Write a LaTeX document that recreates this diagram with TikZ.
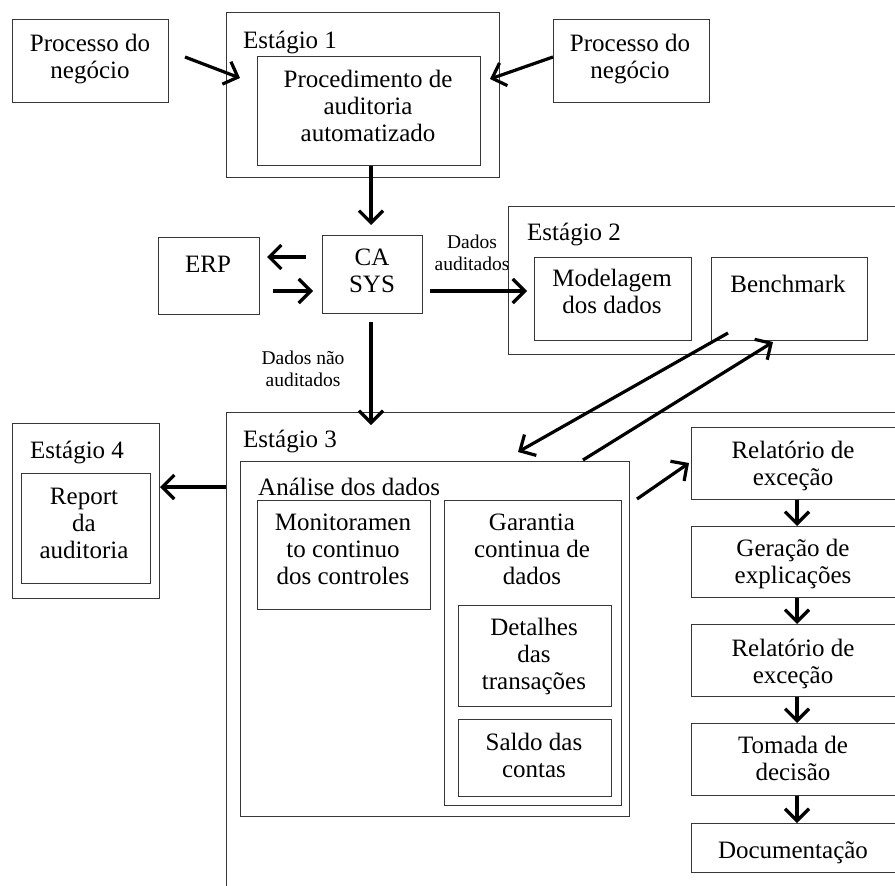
\documentclass[tikz,border=0pt]{standalone}
\usepackage{fontspec}
\setmainfont{Liberation Serif}
\usetikzlibrary{arrows.meta}
\definecolor{boxc}{RGB}{55,55,55}
\newcommand\stA{\rule{0pt}{23pt}}
\newcommand\stB{\rule{0pt}{18pt}}
\begin{document}
\begin{tikzpicture}[x=1pt,y=-1pt,
  box/.style={draw=boxc,line width=1.4pt,inner sep=0pt,anchor=north west},
  txt/.style={inner sep=0pt,anchor=north,align=center,yshift=-5pt,font=\fontsize{25}{27}\selectfont,execute at begin node=\stA},
  ttl/.style={txt,anchor=north west,align=left},
  lbl/.style={inner sep=0pt,anchor=north,align=center,yshift=-5pt,font=\fontsize{19.5}{22}\selectfont,execute at begin node=\stB},
  arr/.style={line width=3.2pt,-{Straight Barb[length=12pt,width=24pt,line width=3.2pt]}}]
\useasboundingbox (0,0) rectangle (895,886);
\clip (0,0) rectangle (895,886);
\fill[white] (0,0) rectangle (895,886);
% Stage 1
\node[box,minimum width=156pt,minimum height=83pt] (pl) at (12,19) {};
\node[txt] (tpl) at (90,52-23) {Processo do\\negócio};
\node[box,minimum width=273pt,minimum height=165pt] (st1) at (226,12) {};
\node[ttl] (tst1) at (243,43-23) {Estágio 1};
\node[box,minimum width=223pt,minimum height=109pt] (proc) at (257,56) {};
\node[txt] (tproc) at (368,88-23) {Procedimento de\\auditoria\\automatizado};
\node[box,minimum width=156pt,minimum height=83pt] (pr) at (553,19) {};
\node[txt] (tpr) at (630,52-23) {Processo do\\negócio};
% CA SYS, ERP
\node[box,minimum width=101pt,minimum height=77pt] (erp) at (158,237) {};
\node[txt] (terp) at (208,267-23) {ERP};
\node[box,minimum width=100pt,minimum height=78pt] (ca) at (322,235) {};
\node[txt] (tca) at (372,267-23) {CA\\SYS};
\node[lbl] (ldados) at (472,248-18) {Dados\\auditados};
\node[lbl] (lnao) at (303,364-18) {Dados não\\auditados};
% Stage 2
\node[box,minimum width=400pt,minimum height=148pt] (st2) at (508,206) {};
\node[ttl] (tst2) at (527,235-23) {Estágio 2};
\node[box,minimum width=157pt,minimum height=83pt] (mod) at (534,257) {};
\node[txt] (tmod) at (612,287-23) {Modelagem\\dos dados};
\node[box,minimum width=156pt,minimum height=83pt] (bench) at (711,257) {};
\node[txt] (tbench) at (788,287-23) {Benchmark};
% Stage 3
\node[box,minimum width=690pt,minimum height=490pt] (st3) at (226,412) {};
\node[ttl] (tst3) at (243,442-23) {Estágio 3};
\node[box,minimum width=389pt,minimum height=355pt] (ana) at (240,461) {};
\node[ttl] (tana) at (258,490-23) {Análise dos dados};
\node[box,minimum width=173pt,minimum height=109pt] (mon) at (257,500) {};
\node[txt] (tmon) at (343,532-23) {Monitoramen\\to continuo\\dos controles};
\node[box,minimum width=177pt,minimum height=305pt] (gar) at (444,500) {};
\node[txt] (tgar) at (532,532-23) {Garantia\\continua de\\dados};
\node[box,minimum width=153pt,minimum height=101pt] (det) at (458,605) {};
\node[txt] (tdet) at (534,636-23) {Detalhes\\das\\transações};
\node[box,minimum width=153pt,minimum height=77pt] (sal) at (458,719) {};
\node[txt] (tsal) at (534,751-23) {Saldo das\\contas};
% Stage 4
\node[box,minimum width=147pt,minimum height=175pt] (st4) at (12,423) {};
\node[ttl] (tst4) at (30,453-23) {Estágio 4};
\node[box,minimum width=129pt,minimum height=110pt] (rep) at (21,473) {};
\node[txt] (trep) at (84,506-23) {Report\\da\\auditoria};
% right column
\node[box,minimum width=212pt,minimum height=72pt] (r1) at (691,427) {};
\node[txt] (tr1) at (793,459-23) {Relatório de\\exceção};
\node[box,minimum width=212pt,minimum height=71pt] (r2) at (691,526) {};
\node[txt] (tr2) at (793,557-23) {Geração de\\explicações};
\node[box,minimum width=212pt,minimum height=72pt] (r3) at (691,624) {};
\node[txt] (tr3) at (793,657-23) {Relatório de\\exceção};
\node[box,minimum width=212pt,minimum height=72pt] (r4) at (691,723) {};
\node[txt] (tr4) at (793,754-23) {Tomada de\\decisão};
\node[box,minimum width=212pt,minimum height=49pt] (r5) at (691,823) {};
\node[txt] (tr5) at (793,853-23) {Documentação};
% arrow end points
\coordinate (a1s) at (185,57);  \coordinate (a1e) at (240,78);
\coordinate (a2e) at (490,79);
\coordinate (a4s) at (306,257); \coordinate (a4e) at (267,257);
\coordinate (a5s) at (273,291); \coordinate (a5e) at (313,291);
\coordinate (a6s) at (430,291); \coordinate (a6e) at (527,291);
\coordinate (a7s) at (371,322); \coordinate (a7e) at (371,425);
\coordinate (a8s) at (728,333); \coordinate (a8e) at (518,452);
\coordinate (a9s) at (583,460); \coordinate (a9e) at (773,342);
\coordinate (a10e) at (160,487);
\coordinate (a11s) at (637,499); \coordinate (a11e) at (689,463);
% arrows
\draw[arr] (a1s) -- (a1e);
\draw[arr] (pr.west |- a1s) -- (a2e);
\draw[arr,shorten >=10pt] (proc.south -| a7s) -- (ca.north -| a7s);
\draw[arr] (a4s) -- (a4e);
\draw[arr] (a5s) -- (a5e);
\draw[arr] (a6s) -- (a6e);
\draw[arr] (a7s) -- (a7e);
\draw[arr] (a8s) -- (a8e);
\draw[arr] (a9s) -- (a9e);
\draw[arr] (st3.west |- a10e) -- (a10e);
\draw[arr] (a11s) -- (a11e);
\draw[arr] (r1.south -| 797,0) -- (r2.north -| 797,0);
\draw[arr] (r2.south -| 797,0) -- (r3.north -| 797,0);
\draw[arr] (r3.south -| 797,0) -- (r4.north -| 797,0);
\draw[arr] (r4.south -| 797,0) -- (r5.north -| 797,0);
\end{tikzpicture}
\end{document}
